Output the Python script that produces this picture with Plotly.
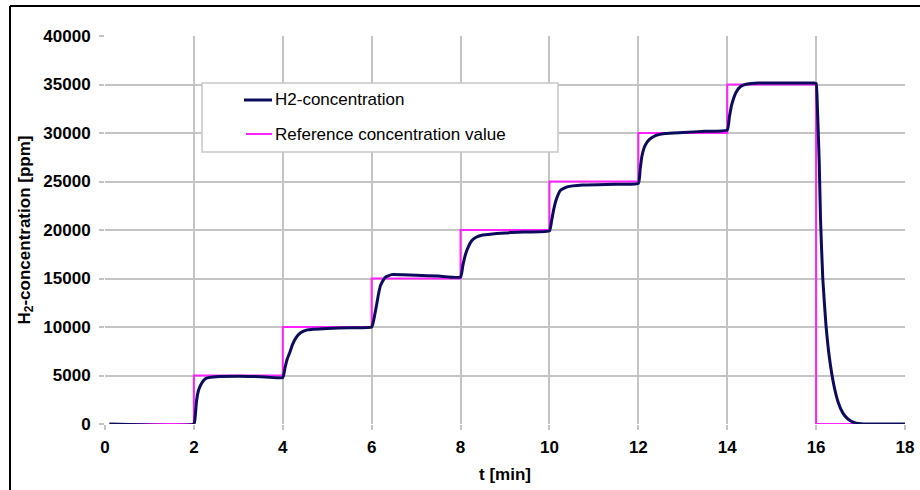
import plotly.graph_objects as go

# Reference (set-point) concentration: value held from each time until the next
ref_t = [0.1, 2, 4, 6, 8, 10, 12, 14, 16, 18]
ref_ppm = [0, 5000, 10000, 15000, 20000, 25000, 30000, 35000, 0, 0]

# Measured H2 concentration
h2_t = [0.1, 2.0, 2.03, 2.06, 2.1, 2.15, 2.22, 2.3, 2.5, 3.0, 3.5, 4.0,
        4.05, 4.1, 4.16, 4.22, 4.3, 4.4, 4.55, 5.0, 5.5, 6.0,
        6.05, 6.1, 6.15, 6.2, 6.3, 6.45, 6.7, 7.0, 7.5, 8.0,
        8.05, 8.1, 8.15, 8.25, 8.35, 8.5, 9.0, 9.5, 10.0,
        10.05, 10.1, 10.15, 10.25, 10.4, 10.75, 11.5, 12.0,
        12.04, 12.08, 12.15, 12.25, 12.4, 12.6, 13.0, 13.5, 14.0,
        14.05, 14.1, 14.2, 14.3, 14.45, 14.7, 15.0, 15.5, 15.95, 16.0,
        16.03, 16.07, 16.1, 16.15, 16.22, 16.3, 16.4, 16.5, 16.6, 16.7, 16.8, 16.9, 17.0, 17.2, 18.0]
h2_ppm = [0, 0, 800, 2400, 3400, 4000, 4500, 4750, 4880, 4930, 4880, 4800,
          5800, 6700, 7400, 8200, 8900, 9400, 9700, 9850, 9920, 10000,
          10800, 12000, 13300, 14300, 15100, 15400, 15380, 15330, 15250, 15150,
          16300, 17300, 18000, 18900, 19250, 19480, 19700, 19800, 19900,
          21000, 22200, 23100, 24100, 24450, 24640, 24720, 24800,
          26200, 27600, 28700, 29350, 29750, 29950, 30050, 30180, 30300,
          31700, 32900, 34200, 34800, 35050, 35150, 35150, 35150, 35150, 35100,
          32500, 27000, 21000, 15000, 10300, 6800, 4000, 2200, 1150, 580, 260, 90, 25, 0, 0]

x_ticks = [0, 2, 4, 6, 8, 10, 12, 14, 16, 18]
y_ticks = [0, 5000, 10000, 15000, 20000, 25000, 30000, 35000, 40000]

NAVY = "#0c0c5c"
MAGENTA = "#ff22ff"
GRID = "#c4c4c4"
FONT = "Liberation Sans, Arial, sans-serif"

fig = go.Figure()
fig.add_trace(go.Scatter(x=ref_t, y=ref_ppm, mode="lines", line_shape="hv",
                         line=dict(color=MAGENTA, width=2), name="Reference concentration value",
                         showlegend=False))
fig.add_trace(go.Scatter(x=h2_t, y=h2_ppm, mode="lines", line_shape="spline",
                         line=dict(color=NAVY, width=3, smoothing=0.4), name="H2-concentration",
                         showlegend=False))

W, H = 920, 490
L, R, T, B = 105, 15, 36, 66
pw, ph = W - L - R, H - T - B


def px(x):
    return (x - L) / pw


def py(y):
    return (H - B - y) / ph


shapes = []
# frame around the whole figure (left and top edges visible)
shapes.append(dict(type="line", xref="paper", yref="paper", x0=px(10), x1=px(10),
                   y0=py(500), y1=py(6), line=dict(color="black", width=2)))
shapes.append(dict(type="line", xref="paper", yref="paper", x0=px(10), x1=px(935),
                   y0=py(6), y1=py(6), line=dict(color="black", width=2)))
# legend box
shapes.append(dict(type="rect", xref="paper", yref="paper", x0=px(202), x1=px(558),
                   y0=py(152), y1=py(83), line=dict(color="#c8c8c8", width=1.5),
                   fillcolor="white", layer="above"))
shapes.append(dict(type="line", xref="paper", yref="paper", x0=px(244), x1=px(272),
                   y0=py(100), y1=py(100), line=dict(color=NAVY, width=3), layer="above"))
shapes.append(dict(type="line", xref="paper", yref="paper", x0=px(246), x1=px(272),
                   y0=py(134), y1=py(134), line=dict(color=MAGENTA, width=2), layer="above"))

annotations = [
    dict(xref="paper", yref="paper", x=px(273), y=py(100), xanchor="left", yanchor="middle",
         text="H2-concentration", showarrow=False, font=dict(size=17, color="black", family=FONT)),
    dict(xref="paper", yref="paper", x=px(273), y=py(134), xanchor="left", yanchor="middle",
         text="Reference concentration value", showarrow=False,
         font=dict(size=17, color="black", family=FONT)),
]

fig.update_layout(
    width=W, height=H,
    margin=dict(l=L, r=R, t=T, b=B, autoexpand=False),
    paper_bgcolor="white", plot_bgcolor="white",
    font=dict(family=FONT, size=17, color="black"),
    shapes=shapes, annotations=annotations,
    showlegend=False,
)
fig.update_xaxes(
    range=[0, 18], tickvals=x_ticks, ticktext=[str(v) for v in x_ticks],
    showgrid=True, gridcolor=GRID, gridwidth=1.5, zeroline=False, automargin=False,
    showline=False, ticks="outside", ticklen=5, tickcolor=GRID, tickwidth=1.5,
    ticklabelstandoff=3,
    tickfont=dict(size=17, family=FONT, weight="bold"),
    title=dict(text="<b>t [min]</b>", font=dict(size=17, family=FONT), standoff=11),
)
fig.update_yaxes(
    range=[0, 40000], tickvals=y_ticks, ticktext=[str(v) for v in y_ticks],
    showgrid=True, gridcolor=GRID, gridwidth=1.5, zeroline=False, automargin=False,
    showline=False, ticks="outside", ticklen=5, tickcolor=GRID, tickwidth=1.5,
    ticklabelstandoff=5,
    tickfont=dict(size=17, family=FONT, weight="bold"),
    title=dict(text="<b>H<sub>2</sub>-concentration [ppm]</b>", font=dict(size=17, family=FONT),
               standoff=8),
)

fig.write_html("out.html")
